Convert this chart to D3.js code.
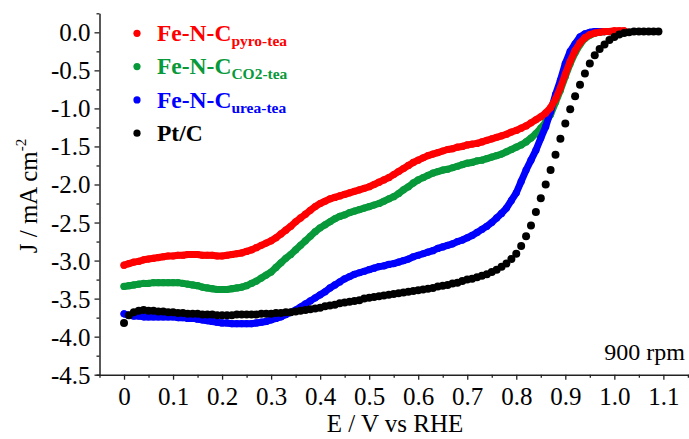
<!DOCTYPE html>
<html>
<head>
<meta charset="utf-8">
<script src="https://cdn.jsdelivr.net/npm/d3@7"></script>
<style>
    body { margin: 0; background: #fff; }
    svg text { font-family: 'Liberation Serif', 'Times New Roman', serif; fill: #000; }
</style>
</head>
<body>
<div class="chart-wrapper"></div>
<script>
// potential (V vs RHE), sampled every 10 mV
const potentials = [
    0.00, 0.01, 0.02, 0.03, 0.04, 0.05, 0.06, 0.07, 0.08, 0.09,
    0.10, 0.11, 0.12, 0.13, 0.14, 0.15, 0.16, 0.17, 0.18, 0.19,
    0.20, 0.21, 0.22, 0.23, 0.24, 0.25, 0.26, 0.27, 0.28, 0.29,
    0.30, 0.31, 0.32, 0.33, 0.34, 0.35, 0.36, 0.37, 0.38, 0.39,
    0.40, 0.41, 0.42, 0.43, 0.44, 0.45, 0.46, 0.47, 0.48, 0.49,
    0.50, 0.51, 0.52, 0.53, 0.54, 0.55, 0.56, 0.57, 0.58, 0.59,
    0.60, 0.61, 0.62, 0.63, 0.64, 0.65, 0.66, 0.67, 0.68, 0.69,
    0.70, 0.71, 0.72, 0.73, 0.74, 0.75, 0.76, 0.77, 0.78, 0.79,
    0.80, 0.81, 0.82, 0.83, 0.84, 0.85, 0.86, 0.87, 0.88, 0.89,
    0.90, 0.91, 0.92, 0.93, 0.94, 0.95, 0.96, 0.97, 0.98, 0.99,
    1.00, 1.01, 1.02, 1.03, 1.04, 1.05, 1.06, 1.07, 1.08, 1.09
];

// current density (mA cm-2)
const pyroTea = [
    -3.06, -3.04, -3.02, -3.01, -2.99, -2.98, -2.97, -2.96, -2.95, -2.94,
    -2.94, -2.93, -2.93, -2.92, -2.92, -2.92, -2.93, -2.93, -2.93, -2.94,
    -2.94, -2.93, -2.92, -2.91, -2.90, -2.88, -2.86, -2.83, -2.80, -2.77,
    -2.74, -2.70, -2.65, -2.60, -2.55, -2.49, -2.44, -2.39, -2.34, -2.29,
    -2.25, -2.22, -2.19, -2.17, -2.15, -2.13, -2.11, -2.09, -2.07, -2.05,
    -2.03, -2.00, -1.97, -1.94, -1.91, -1.87, -1.83, -1.79, -1.75, -1.71,
    -1.68, -1.65, -1.62, -1.60, -1.58, -1.56, -1.54, -1.53, -1.51, -1.50,
    -1.48, -1.47, -1.46, -1.44, -1.42, -1.40, -1.38, -1.36, -1.34, -1.31,
    -1.29, -1.26, -1.23, -1.19, -1.15, -1.11, -1.06, -0.99, -0.88, -0.73,
    -0.55, -0.38, -0.24, -0.14, -0.07, -0.03, -0.01, 0.00, 0.01, 0.01,
    0.02, 0.02, 0.02
];
const co2Tea = [
    -3.34, -3.33, -3.32, -3.31, -3.30, -3.30, -3.29, -3.29, -3.29, -3.29,
    -3.29, -3.29, -3.30, -3.31, -3.32, -3.33, -3.35, -3.36, -3.37, -3.38,
    -3.38, -3.38, -3.37, -3.36, -3.35, -3.33, -3.30, -3.27, -3.23, -3.19,
    -3.15, -3.09, -3.03, -2.97, -2.92, -2.86, -2.80, -2.74, -2.68, -2.62,
    -2.57, -2.53, -2.49, -2.45, -2.42, -2.40, -2.37, -2.35, -2.33, -2.31,
    -2.29, -2.27, -2.25, -2.22, -2.19, -2.16, -2.12, -2.07, -2.03, -1.98,
    -1.94, -1.91, -1.88, -1.85, -1.83, -1.81, -1.80, -1.78, -1.76, -1.74,
    -1.72, -1.71, -1.69, -1.68, -1.66, -1.64, -1.62, -1.60, -1.57, -1.54,
    -1.51, -1.48, -1.44, -1.39, -1.33, -1.26, -1.18, -1.08, -0.92, -0.76,
    -0.58, -0.41, -0.27, -0.16, -0.08, -0.04, -0.01, 0.00, 0.01, 0.01,
    0.01
];
const ureaTea = [
    -3.70, -3.72, -3.73, -3.73, -3.74, -3.74, -3.74, -3.74, -3.74, -3.74,
    -3.74, -3.75, -3.75, -3.76, -3.76, -3.77, -3.78, -3.79, -3.80, -3.81,
    -3.82, -3.82, -3.83, -3.83, -3.83, -3.83, -3.83, -3.82, -3.81, -3.80,
    -3.78, -3.76, -3.74, -3.71, -3.68, -3.65, -3.61, -3.57, -3.53, -3.49,
    -3.45, -3.41, -3.36, -3.32, -3.28, -3.24, -3.21, -3.18, -3.16, -3.14,
    -3.12, -3.10, -3.08, -3.07, -3.05, -3.04, -3.02, -3.00, -2.98, -2.95,
    -2.93, -2.91, -2.89, -2.87, -2.84, -2.82, -2.80, -2.78, -2.75, -2.73,
    -2.70, -2.67, -2.63, -2.59, -2.55, -2.50, -2.44, -2.38, -2.31, -2.21,
    -2.11, -1.96, -1.81, -1.68, -1.55, -1.39, -1.24, -1.04, -0.82, -0.63,
    -0.41, -0.25, -0.15, -0.06, -0.02, 0.00, 0.01, 0.01, 0.01, 0.01,
    0.01
];
const ptC = [
    -3.82, -3.72, -3.68, -3.66, -3.65, -3.66, -3.66, -3.67, -3.67, -3.68,
    -3.68, -3.69, -3.69, -3.70, -3.70, -3.70, -3.71, -3.71, -3.71, -3.72,
    -3.72, -3.72, -3.72, -3.71, -3.71, -3.71, -3.71, -3.71, -3.70, -3.70,
    -3.70, -3.69, -3.69, -3.68, -3.68, -3.67, -3.66, -3.65, -3.64, -3.63,
    -3.62, -3.60, -3.59, -3.58, -3.56, -3.55, -3.54, -3.53, -3.52, -3.50,
    -3.49, -3.48, -3.47, -3.46, -3.45, -3.44, -3.43, -3.42, -3.41, -3.40,
    -3.39, -3.38, -3.37, -3.36, -3.34, -3.33, -3.32, -3.30, -3.29, -3.27,
    -3.25, -3.24, -3.22, -3.20, -3.18, -3.15, -3.12, -3.08, -3.04, -2.98,
    -2.91, -2.81, -2.68, -2.54, -2.36, -2.18, -2.00, -1.81, -1.61, -1.40,
    -1.20, -1.01, -0.84, -0.69, -0.54, -0.41, -0.30, -0.22, -0.16, -0.10,
    -0.06, -0.03, -0.01, 0.00, 0.01, 0.01, 0.01, 0.01, 0.01, 0.01
];

const xTicks = [0, 0.1, 0.2, 0.3, 0.4, 0.5, 0.6, 0.7, 0.8, 0.9, 1.0, 1.1];
const yTicks = [0, -0.5, -1.0, -1.5, -2.0, -2.5, -3.0, -3.5, -4.0, -4.5];

const seriesList = [
    { name: 'Fe-N-C', sub: 'pyro-tea', values: pyroTea, color: '#ff0000', line: true },
    { name: 'Fe-N-C', sub: 'CO2-tea', values: co2Tea, color: '#08993a', line: true },
    { name: 'Fe-N-C', sub: 'urea-tea', values: ureaTea, color: '#0000ff', line: true },
    { name: 'Pt/C', sub: '', values: ptC, color: '#000000', line: false }
];
// drawing order, last on top
const drawOrder = [1, 2, 0, 3];

const width = 689;
const height = 439;

let svg = d3.select('.chart-wrapper').append('svg')
    .attr('width', width)
    .attr('height', height);

let x = d3.scaleLinear()
    .domain([-0.05, 1.2])
    .range([99.5, 712.4]);

let y = d3.scaleLinear()
    .domain([-4.5, 0.25])
    .range([374.7, 13.3]);

function minorTicks(majors, step) {
    let out = [];
    majors.forEach((m) => {
        out.push(+(m - step).toFixed(3));
    });
    return out;
}

// minor ticks
svg.append('g')
    .attr('transform', `translate(0, ${y(-4.5)})`)
    .call(d3.axisBottom(x)
        .tickValues(minorTicks(xTicks, 0.05).concat([1.15]))
        .tickSize(3).tickSizeOuter(0).tickFormat(''))
    .call((g) => g.select('.domain').remove());

svg.append('g')
    .attr('transform', `translate(${x(-0.05)}, 0)`)
    .call(d3.axisLeft(y)
        .tickValues(minorTicks(yTicks, -0.25).filter((v) => v <= 0.25))
        .tickSize(3).tickSizeOuter(0).tickFormat(''))
    .call((g) => g.select('.domain').remove());

// major axes
let xAxis = svg.append('g')
    .attr('transform', `translate(0, ${y(-4.5)})`)
    .call(d3.axisBottom(x)
        .tickValues(xTicks)
        .tickSize(5)
        .tickSizeOuter(0)
        .tickPadding(8)
        .tickFormat((d) => d === 0 ? '0' : d.toFixed(1)));

let yAxis = svg.append('g')
    .attr('transform', `translate(${x(-0.05)}, 0)`)
    .call(d3.axisLeft(y)
        .tickValues(yTicks)
        .tickSize(5)
        .tickSizeOuter(0)
        .tickPadding(4)
        .tickFormat((d) => d.toFixed(1)));

svg.selectAll('.tick line').attr('stroke', '#222').attr('stroke-width', 1.3);
svg.selectAll('.domain').attr('stroke', '#222').attr('stroke-width', 1.5);
xAxis.selectAll('text').attr('font-size', 25).attr('font-family', 'Liberation Serif');
yAxis.selectAll('text').attr('font-size', 25).attr('font-family', 'Liberation Serif')
    .attr('dy', '0.34em');
xAxis.select('.domain').attr('d', `M96.5,0.5H${width}`);

// axis titles
svg.append('text')
    .attr('x', 395)
    .attr('y', 432)
    .attr('text-anchor', 'middle')
    .attr('font-size', 25)
    .text('E / V vs RHE');

let yTitle = svg.append('text')
    .attr('transform', 'translate(37, 196) rotate(-90)')
    .attr('text-anchor', 'middle')
    .attr('font-size', 25);
yTitle.append('tspan').text('J / mA cm');
yTitle.append('tspan').attr('font-size', 15).attr('dy', -11).text('-2');

// data
let line = d3.line()
    .x((d) => x(d[0]))
    .y((d) => y(d[1]));

let plot = svg.append('g').attr('class', 'plot');

drawOrder.forEach((i) => {
    let s = seriesList[i];
    let points = s.values.map((v, k) => [potentials[k], v]);
    let g = plot.append('g');
    if (s.line) {
        g.append('path')
            .datum(points)
            .attr('d', line)
            .attr('fill', 'none')
            .attr('stroke', s.color)
            .attr('stroke-width', 7)
            .attr('stroke-linejoin', 'round')
            .attr('stroke-linecap', 'round');
    }
    g.selectAll('circle')
        .data(points)
        .enter()
        .append('circle')
        .attr('cx', (d) => x(d[0]))
        .attr('cy', (d) => y(d[1]))
        .attr('r', s.line ? 3.6 : 4)
        .attr('fill', s.color);
});

// legend
let legend = svg.append('g').attr('class', 'legend');
seriesList.forEach((s, i) => {
    let rowY = 33.3 + i * 33.3;
    legend.append('circle')
        .attr('cx', 137)
        .attr('cy', rowY)
        .attr('r', 3.6)
        .attr('fill', s.color);
    let label = legend.append('text')
        .attr('x', 157)
        .attr('y', rowY + 7.8)
        .attr('font-size', 23.5)
        .attr('font-weight', 'bold')
        .style('fill', s.color);
    label.append('tspan').text(s.name);
    if (s.sub) {
        label.append('tspan')
            .attr('font-size', 15.5)
            .attr('dy', 5)
            .text(s.sub);
    }
});

svg.append('text')
    .attr('x', 685)
    .attr('y', 360)
    .attr('text-anchor', 'end')
    .attr('font-size', 24)
    .text('900 rpm');
</script>
</body>
</html>
